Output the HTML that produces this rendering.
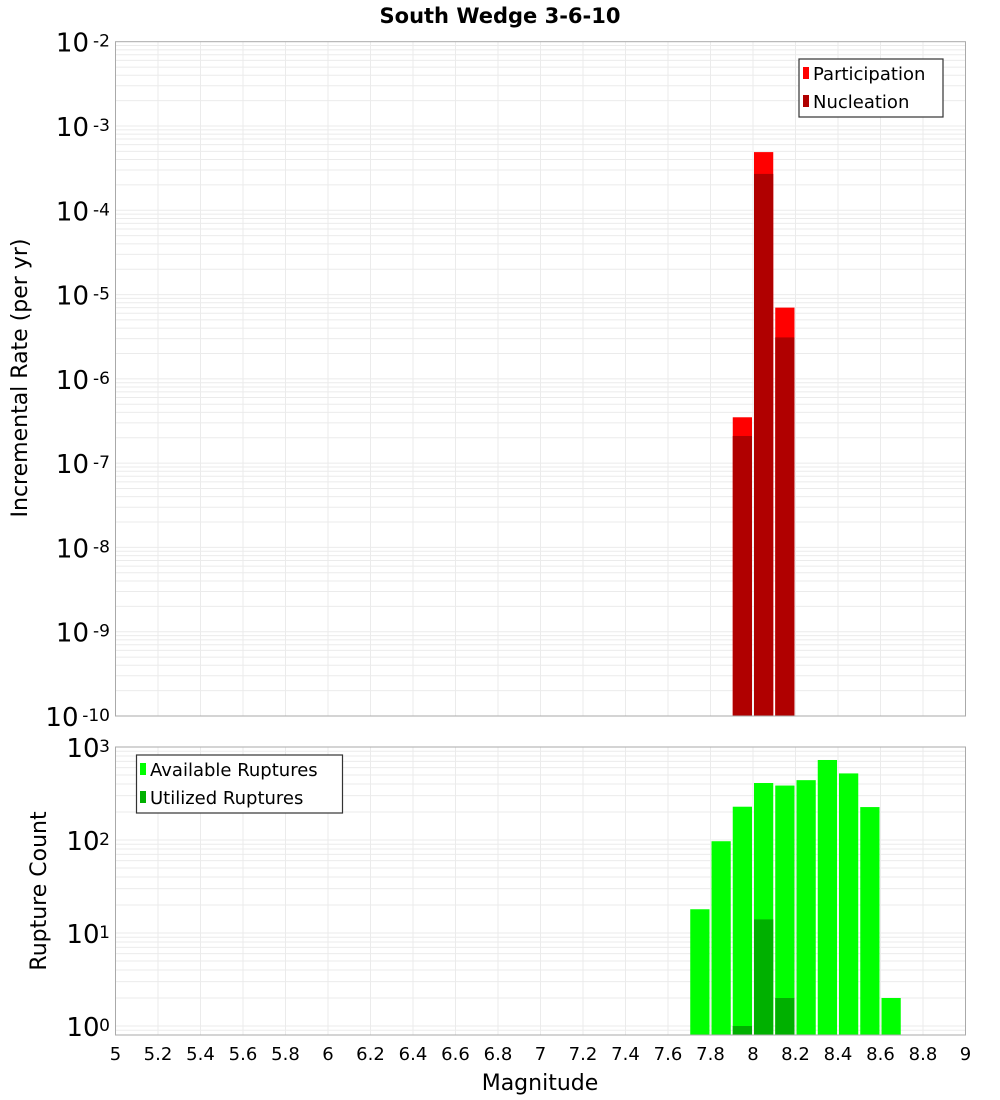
<!DOCTYPE html>
<html><head><meta charset="utf-8">
<style>
html,body{margin:0;padding:0;background:#fff;}
svg{display:block;font-family:"DejaVu Sans","Liberation Sans",sans-serif;}
</style></head>
<body>
<svg id="chart" width="1000" height="1100" viewBox="0 0 1000 1100">
<text x="500" y="23" text-anchor="middle" font-size="21" font-weight="bold">South Wedge 3-6-10</text>
<g id="topPlot"></g>
<g id="botPlot"></g>
<text transform="translate(27,378) rotate(-90)" text-anchor="middle" font-size="22">Incremental Rate (per yr)</text>
<text transform="translate(46,891) rotate(-90)" text-anchor="middle" font-size="22">Rupture Count</text>
<text x="540" y="1090" text-anchor="middle" font-size="22">Magnitude</text>
<g>
<rect x="799" y="59" width="144" height="58" fill="#fff" stroke="#333" stroke-width="1.2"/>
<rect x="803" y="67" width="6" height="12" fill="#ff0000"/>
<text x="813" y="80" font-size="18">Participation</text>
<rect x="803" y="95" width="6" height="12" fill="#b00000"/>
<text x="813" y="108" font-size="18">Nucleation</text>
</g>
<g>
<rect x="136.5" y="755" width="206" height="58" fill="#fff" stroke="#333" stroke-width="1.2"/>
<rect x="140" y="763" width="6" height="12" fill="#00ff00"/>
<text x="150" y="776" font-size="18">Available Ruptures</text>
<rect x="140" y="791" width="6" height="12" fill="#00b000"/>
<text x="150" y="804" font-size="18">Utilized Ruptures</text>
</g>
</svg>
<script>
const binCenters = [7.75,7.85,7.95,8.05,8.15,8.25,8.35,8.45,8.55,8.65];
const participation = [null,null,3.5e-7,4.9e-4,7.0e-6,null,null,null,null,null];
const nucleation = [null,null,2.1e-7,2.7e-4,3.1e-6,null,null,null,null,null];
const available = [18,97,228,410,385,440,725,520,226,2];
const utilized = [null,null,1,14,2,null,null,null,null,null];
const xTicks = [5,5.2,5.4,5.6,5.8,6,6.2,6.4,6.6,6.8,7,7.2,7.4,7.6,7.8,8,8.2,8.4,8.6,8.8,9];
const topExps = [-2,-3,-4,-5,-6,-7,-8,-9,-10];
const botExps = [3,2,1,0];

const NS="http://www.w3.org/2000/svg";
const X0=115.5,X1=965.5,XMIN=5,XMAX=9;
const xs=v=>X0+(v-XMIN)/(XMAX-XMIN)*(X1-X0);
const T0=41.7,T1=716,TMAX=-2,TMIN=-10;
const ysTop=v=>T0+(TMAX-Math.log10(v))/(TMAX-TMIN)*(T1-T0);
const B0=747,B1=1035,BDEC=93,BTOPEXP=3;
const ysBot=v=>B0+(BTOPEXP-Math.log10(v))*BDEC;
const BW=0.1;
function mk(p,tag,a){const e=document.createElementNS(NS,tag);for(const k in a)e.setAttribute(k,a[k]);p.appendChild(e);return e;}

function grid(g,y0,y1,ys,lo,hi){
  mk(g,'rect',{x:X0,y:y0,width:X1-X0,height:y1-y0,fill:'#fff'});
  for(let d=lo;d<hi;d++)for(let m=1;m<10;m++){
    const y=ys(m*Math.pow(10,d));
    if(y<y0||y>y1)continue;
    const l=mk(g,'line',{x1:X0,x2:X1,y1:y,y2:y,stroke:'#ebebeb','stroke-width':1});
    
    
  }
  xTicks.forEach(t=>{const x=xs(t);const l=mk(g,'line',{x1:x,x2:x,y1:y0,y2:y1,stroke:'#ebebeb','stroke-width':1});
    
    });
}
function bars(g,vals,ys,base,color,name){
  vals.forEach((v,i)=>{if(v==null)return;
    const x=xs(binCenters[i]-BW/2)+1,w=xs(binCenters[i]+BW/2)-1-x;
    const y=Math.max(ys(v),0);
    const r=mk(g,'rect',{x:x,y:y,width:w,height:base-y,fill:color});
    
    
  });
}
function border(g,y0,y1){mk(g,'rect',{x:X0,y:y0,width:X1-X0,height:y1-y0,fill:'none',stroke:'#aaa','stroke-width':1});}
function ylabel(g,exp,y,name){
  const t=mk(g,'text',{x:110,y:y+9,'text-anchor':'end','font-size':17});
  t.textContent=String(exp);
  
  
  const t2=mk(g,'text',{x:110-(String(exp).length*10.5),y:y+14,'text-anchor':'end','font-size':26});
  t2.textContent='10';
  
  
}
const topG=document.getElementById('topPlot'),botG=document.getElementById('botPlot');
grid(topG,T0,T1,ysTop,-10,-2);
bars(topG,participation,ysTop,T1,'#ff0000','participation');
bars(topG,nucleation,ysTop,T1,'#b00000','nucleation');
border(topG,T0,T1);
topExps.forEach(e=>ylabel(topG,e,ysTop(Math.pow(10,e))-4,'y-tick-rate'));

grid(botG,B0,B1,ysBot,-1,3);
bars(botG,available,ysBot,B1,'#00ff00','available');
bars(botG,utilized,ysBot,B1,'#00b000','utilized');
border(botG,B0,B1);
botExps.forEach(e=>ylabel(botG,e,ysBot(Math.pow(10,e))-4,'y-tick-count'));
xTicks.forEach(t=>{const e=mk(botG,'text',{x:xs(t),y:1060,'text-anchor':'middle','font-size':18});
  e.textContent=String(t);
  
  });
</script>
</body></html>
